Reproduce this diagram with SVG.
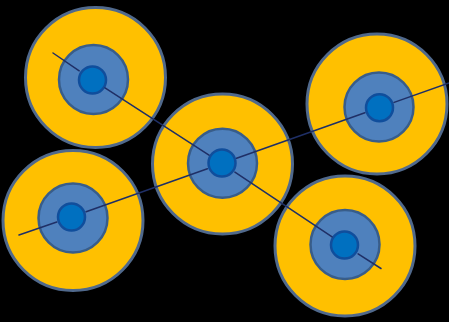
<svg xmlns="http://www.w3.org/2000/svg" width="449" height="322" viewBox="0 0 449 322">
<style>
.outer{fill:#FFC000;stroke:#50698C;stroke-width:3}
.mid{fill:#4F81BD;stroke:#385D8A;stroke-width:2.5}
.inner{fill:#0070C0;stroke:#104E9C;stroke-width:2.5}
.link{stroke:#1F2F66;stroke-width:1.5;fill:none;stroke-linecap:round}
</style>
<rect width="449" height="322" fill="#000"/>
<g id="node-top-left">
<circle class="outer" cx="95.5" cy="77.5" r="70"/>
<circle class="mid" cx="93.5" cy="79.5" r="34.5"/>
<circle class="inner" cx="92.5" cy="80" r="13.5"/>
</g>
<g id="node-bottom-left">
<circle class="outer" cx="73" cy="220.5" r="70"/>
<circle class="mid" cx="73" cy="218" r="34.5"/>
<circle class="inner" cx="71.5" cy="217" r="13.5"/>
</g>
<g id="node-center">
<circle class="outer" cx="222.5" cy="164" r="70"/>
<circle class="mid" cx="222.5" cy="163.3" r="34.5"/>
<circle class="inner" cx="222" cy="163" r="13.5"/>
</g>
<g id="node-top-right">
<circle class="outer" cx="377" cy="104" r="70"/>
<circle class="mid" cx="379" cy="107" r="34.5"/>
<circle class="inner" cx="379.5" cy="107.7" r="13.5"/>
</g>
<g id="node-bottom-right">
<circle class="outer" cx="345" cy="246" r="70"/>
<circle class="mid" cx="345" cy="244.5" r="34.5"/>
<circle class="inner" cx="344.5" cy="245" r="13.5"/>
</g>
<g id="connectors" class="link">
<line x1="53" y1="53" x2="79.2" y2="70.8"/>
<line x1="105" y1="87.9" x2="209" y2="155.1"/>
<line x1="234.9" y1="172.1" x2="332.1" y2="236.9"/>
<line x1="358.1" y1="253.8" x2="381" y2="268.5"/>
<line x1="19" y1="235" x2="56.8" y2="222"/>
<line x1="86.1" y1="211.8" x2="207.4" y2="168.7"/>
<line x1="236.6" y1="158.3" x2="364.9" y2="112.7"/>
<line x1="394.1" y1="102.4" x2="449" y2="83"/>
</g>
</svg>
